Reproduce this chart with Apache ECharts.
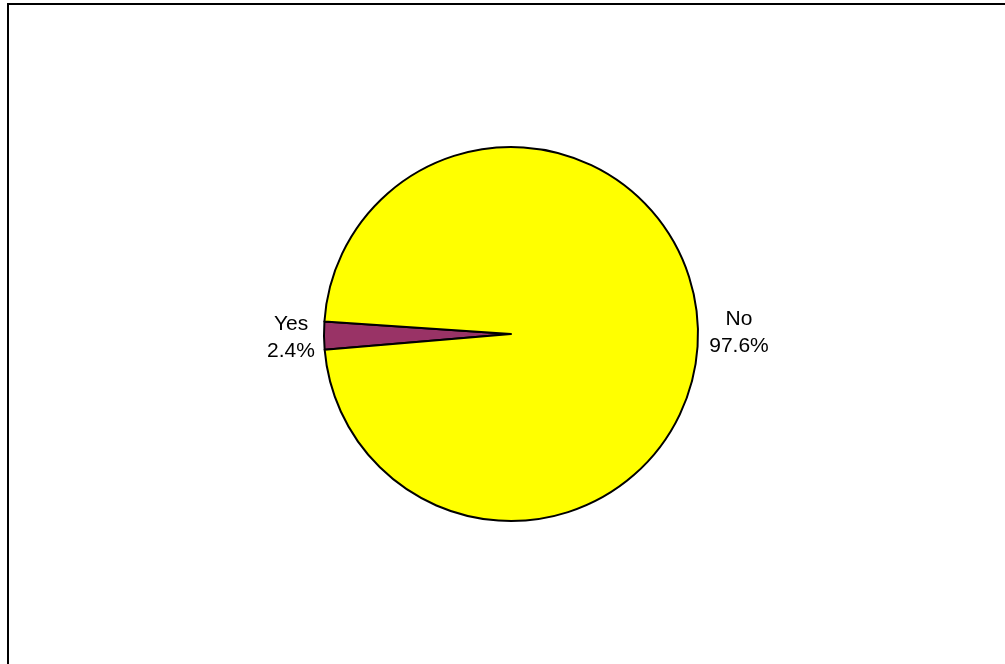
<!DOCTYPE html>
<html>
<head>
<meta charset="utf-8">
<script src="https://cdn.jsdelivr.net/npm/echarts@6/dist/echarts.min.js"></script>
<style>
  html, body { margin: 0; padding: 0; background: #fff; }
  #chart { width: 1005px; height: 664px; }
</style>
</head>
<body>
<div id="chart"></div>
<script>
  // answers and their shares (%)
  const categories = ['Yes', 'No'];
  const shares = [2.4, 97.6];
  const colors = ['#993366', '#ffff00'];
  const labelWidths = [46, 62];

  const chart = echarts.init(document.getElementById('chart'));

  chart.setOption({
    animation: false,
    graphic: [{
      type: 'rect',
      shape: { x: 8, y: 4, width: 1010, height: 680 },
      style: { fill: 'none', stroke: '#000', lineWidth: 2 }
    }],
    series: [{
      type: 'pie',
      center: [511, 334],
      radius: 187,
      startAngle: 184.8,
      clockwise: true,
      percentPrecision: 1,
      data: categories.map((name, i) => ({
        name: name,
        value: shares[i],
        itemStyle: { color: colors[i] },
        label: {
          rich: {
            t: {
              fontFamily: 'Liberation Sans, Arial, sans-serif',
              fontSize: 21,
              lineHeight: 27,
              color: '#000',
              width: labelWidths[i],
              align: 'center',
              padding: i === 0 ? [5, 0, 0, 0] : 0
            }
          }
        }
      })),
      itemStyle: { borderColor: '#000', borderWidth: 2 },
      emphasis: { disabled: true },
      label: {
        position: 'outside',
        formatter: '{t|{b}\n{d}%}'
      },
      labelLine: { show: false, length: 5, length2: 0 }
    }]
  });
</script>
</body>
</html>
